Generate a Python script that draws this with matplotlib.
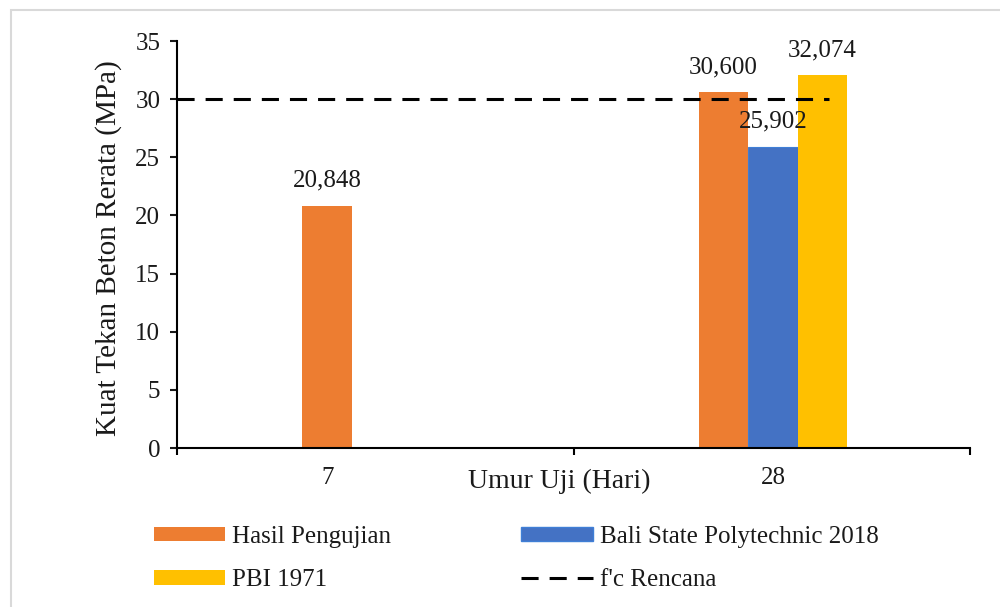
import numpy as np
import matplotlib
matplotlib.use("Agg")
import matplotlib.pyplot as plt
from matplotlib.patches import Rectangle, Patch
from matplotlib.lines import Line2D

# data
umur = ["7", "28"]
hasil_pengujian = [20.848, 30.600]
bali_2018 = [np.nan, 25.902]
pbi_1971 = [np.nan, 32.074]
fc_rencana = 30

plt.rcParams["font.family"] = ["Liberation Serif", "DejaVu Serif"]

c_orange = "#ED7D31"
c_blue = "#4472C4"
c_yellow = "#FFC000"
c_text = "#1a1a1a"

fig = plt.figure(figsize=(10, 6.07), dpi=100)
ax = fig.add_axes([0.177, 0.2619, 0.793, 0.6705])

# category centres on a 0..2 axis (two bands)
centers = [0.379, 1.503]
bw = 0.125

# 7 days: only Hasil Pengujian, drawn centred; 28 days: three bars
ax.bar(centers[0], hasil_pengujian[0], width=bw, color=c_orange)
ax.bar(centers[1] - bw, hasil_pengujian[1], width=bw, color=c_orange)
ax.bar(centers[1], bali_2018[1], width=bw, color=c_blue, edgecolor="#3F7FD6", linewidth=0.8)
ax.bar(centers[1] + bw, pbi_1971[1], width=bw, color=c_yellow)

labels = [(centers[0], hasil_pengujian[0]),
          (centers[1] - bw, hasil_pengujian[1]),
          (centers[1], bali_2018[1]),
          (centers[1] + bw, pbi_1971[1])]
for x, v in labels:
    ax.annotate(f"{v:.3f}".replace(".", ","), (x, v), xytext=(0, 18),
                textcoords="offset points", ha="center", va="center",
                fontsize=18, color=c_text)

dash = (5.6, 3.6)
ax.plot([0, 1.645], [fc_rencana, fc_rencana], color="black", lw=2.2,
        linestyle=(0, dash), dash_capstyle="butt")

ax.set_xlim(0, 2)
ax.set_ylim(0, 35)
ax.set_yticks(np.arange(0, 36, 5))
ax.tick_params(axis="y", direction="out", length=5, width=1.5, pad=7, labelsize=18, colors=c_text)

ax.set_xticks([0, 1, 2])
ax.set_xticklabels([])
ax.tick_params(axis="x", which="major", direction="out", length=5, width=1.5)
ax.set_xticks(centers, minor=True)
ax.set_xticklabels(umur, minor=True)
ax.tick_params(axis="x", which="minor", length=0, pad=14, labelsize=18, labelcolor=c_text)

for s in ["top", "right"]:
    ax.spines[s].set_visible(False)
for s in ["left", "bottom"]:
    ax.spines[s].set_linewidth(1.5)

ax.set_ylabel("Kuat Tekan Beton Rerata (MPa)", fontsize=21, color=c_text)
ax.yaxis.set_label_coords(-0.069, 0.49)
ax.set_xlabel("Umur Uji (Hari)", fontsize=20, color=c_text)
ax.xaxis.set_label_coords(0.482, -0.05)

handles = [Patch(facecolor=c_orange, label="Hasil Pengujian"),
           Patch(facecolor=c_yellow, label="PBI 1971"),
           Patch(facecolor=c_blue, edgecolor="#3F7FD6", label="Bali State Polytechnic 2018"),
           Line2D([], [], color="black", lw=2.2, linestyle=(0, dash), label="f'c Rencana")]
leg = fig.legend(handles=handles, ncol=2, loc="upper left", bbox_to_anchor=(0.154, 0.134),
                 frameon=False, fontsize=18, handlelength=2.85, handleheight=0.52,
                 handletextpad=0.28, columnspacing=5.2, labelspacing=0.86,
                 borderpad=0, borderaxespad=0)
for t in leg.get_texts():
    t.set_color(c_text)

# outer chart frame (only top and left edges are visible in the crop)
fig.patches.append(Rectangle((0.011, -0.1), 1.2, 1.1 - 10 / 607, transform=fig.transFigure,
                             fill=False, edgecolor="#d9d9d9", linewidth=1.5))

fig.savefig("out.png", dpi=100)
